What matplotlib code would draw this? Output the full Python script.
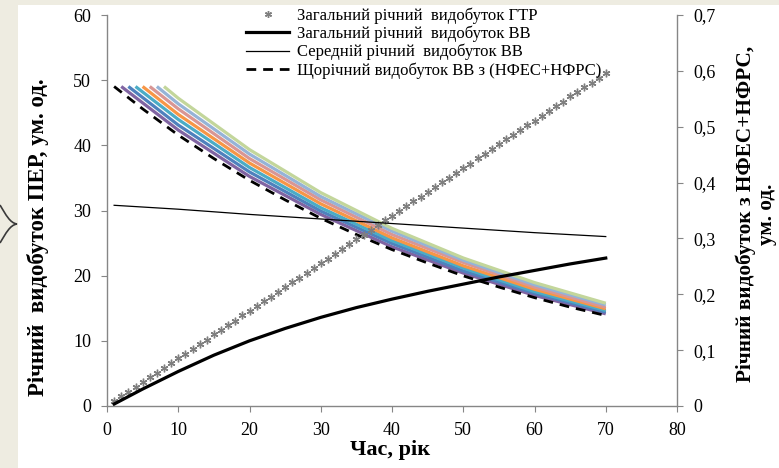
import numpy as np
import matplotlib
matplotlib.use('Agg')
import matplotlib.pyplot as plt
from matplotlib.patches import Rectangle, PathPatch
from matplotlib.path import Path
from matplotlib.lines import Line2D

plt.rcParams['font.family'] = ['Liberation Serif', 'DejaVu Serif']

# total annual GTR output, one marker per year (left axis)
years = list(range(1, 71))
gtr_total = [0.7, 1.5, 2.2, 2.9, 3.7, 4.4, 5.1, 5.8, 6.6, 7.3,
             8.0, 8.8, 9.5, 10.2, 11.0, 11.7, 12.4, 13.1, 13.9, 14.6,
             15.3, 16.1, 16.8, 17.5, 18.3, 19.0, 19.7, 20.4, 21.2, 21.9,
             22.6, 23.4, 24.1, 24.8, 25.6, 26.3, 27.0, 27.7, 28.5, 29.2,
             29.9, 30.7, 31.4, 32.1, 32.9, 33.6, 34.3, 35.0, 35.8, 36.5,
             37.2, 38.0, 38.7, 39.4, 40.2, 40.9, 41.6, 42.3, 43.1, 43.8,
             44.5, 45.3, 46.0, 46.7, 47.5, 48.2, 48.9, 49.6, 50.4, 51.1]

# total annual BB output (left axis)
bb_years = [1, 5, 10, 15, 20, 25, 30, 35, 40, 45, 50, 55, 60, 65, 70]
bb_total = [0.3, 2.6, 5.3, 7.8, 10.0, 11.9, 13.6, 15.1, 16.4, 17.6, 18.7, 19.8, 20.8, 21.8, 22.7]

# average annual BB output (left axis)
avg_years = [1, 10, 20, 30, 40, 50, 60, 70]
bb_avg = [30.8, 30.2, 29.4, 28.7, 28.0, 27.3, 26.6, 26.0]

# annual BB output with NFES+NFRS (right axis)
dash_years = [1, 5, 10, 15, 20, 25, 30, 35, 40, 45, 50, 55, 60, 65, 70]
bb_nf = [0.572, 0.532, 0.485, 0.443, 0.404, 0.369, 0.336, 0.307, 0.280,
         0.256, 0.233, 0.213, 0.194, 0.177, 0.162]

# the same output for wells started in later years (right axis)
wave_years = [[2, 10, 20, 30, 40, 50, 60, 70],
              [3, 10, 20, 30, 40, 50, 60, 70],
              [4, 10, 20, 30, 40, 50, 60, 70],
              [5, 10, 20, 30, 40, 50, 60, 70],
              [6, 10, 20, 30, 40, 50, 60, 70],
              [7, 10, 20, 30, 40, 50, 60, 70],
              [8, 10, 20, 30, 40, 50, 60, 70]]
wave_vals = [[0.572, 0.494, 0.411, 0.343, 0.285, 0.238, 0.198, 0.165],
             [0.572, 0.503, 0.419, 0.349, 0.291, 0.242, 0.202, 0.168],
             [0.572, 0.513, 0.427, 0.355, 0.296, 0.247, 0.205, 0.171],
             [0.572, 0.522, 0.435, 0.362, 0.301, 0.251, 0.209, 0.174],
             [0.572, 0.532, 0.443, 0.369, 0.307, 0.257, 0.213, 0.177],
             [0.572, 0.541, 0.451, 0.375, 0.313, 0.261, 0.217, 0.181],
             [0.572, 0.551, 0.459, 0.382, 0.318, 0.265, 0.221, 0.184]]
wave_colors = ['#8064A2', '#4F81BD', '#4BACC6', '#F79646', '#D99694', '#95B3D7', '#C3D69B']

labels = ['Загальний річний  видобуток ГТР',
          'Загальний річний  видобуток ВВ',
          'Середній річний  видобуток ВВ',
          'Щорічний видобуток ВВ з (НФЕС+НФРС)']
x_ticks = [0, 10, 20, 30, 40, 50, 60, 70, 80]
left_ticks = [0, 10, 20, 30, 40, 50, 60]
right_ticks = [0, 0.1, 0.2, 0.3, 0.4, 0.5, 0.6, 0.7]
right_tick_labels = ['0', '0,1', '0,2', '0,3', '0,4', '0,5', '0,6', '0,7']

W, H = 779, 468
gray = '#868686'
fig = plt.figure(figsize=(W / 100, H / 100), dpi=100, facecolor='#EEECE1')
fig.patches.append(Rectangle((18 / W, 0), 1 - 18 / W, 1 - 5 / H, transform=fig.transFigure,
                             facecolor='white', edgecolor='none', zorder=-10))

# little brace on the slide edge
brace = Path([(0, 205), (6, 215), (10, 223), (17, 224), (10, 225), (6, 233), (0, 243)],
             [Path.MOVETO, Path.CURVE4, Path.CURVE4, Path.CURVE4, Path.CURVE4, Path.CURVE4, Path.CURVE4])
brace = Path([(x / W, 1 - y / H) for x, y in brace.vertices], brace.codes)
fig.patches.append(PathPatch(brace, transform=fig.transFigure, facecolor='none',
                             edgecolor='#3a3a3a', lw=1.2, zorder=-5))

rect = [107 / W, 1 - 406 / H, (677 - 107) / W, (406 - 15) / H]
ax2 = fig.add_axes(rect)
ax = fig.add_axes(rect, sharex=ax2)
ax2.set_zorder(1)
ax.set_zorder(2)
ax.patch.set_visible(False)
ax2.patch.set_visible(False)

for yrs, vals, c in zip(wave_years, wave_vals, wave_colors):
    ax2.plot(yrs, vals, color=c, lw=2.3, solid_capstyle='butt')
ax2.plot(dash_years, bb_nf, color='black', lw=2.0, dashes=(3.5, 2.5))

ax.plot(years, gtr_total, ls='none', marker=(6, 2, 0), ms=5.5, mec='#7f7f7f', mew=1.0)
ax.plot(bb_years, bb_total, color='black', lw=2.3)
ax.plot(avg_years, bb_avg, color='black', lw=0.9)

ax.set_xlim(0, 80)
ax.set_ylim(0, 60)
ax2.set_ylim(0, 0.7)
ax.set_xticks(x_ticks)
ax.set_yticks(left_ticks)
ax2.set_yticks(right_ticks)
ax2.set_yticklabels(right_tick_labels)
ax2.yaxis.tick_right()

for s in ['top', 'right']:
    ax.spines[s].set_visible(False)
for s in ['top', 'left', 'bottom']:
    ax2.spines[s].set_visible(False)
for sp in [ax.spines['left'], ax.spines['bottom'], ax2.spines['right']]:
    sp.set_color(gray)
    sp.set_linewidth(1.0)
ax.tick_params(direction='out', length=4, color=gray, labelsize=13, pad=7.5)
ax2.tick_params(axis='y', direction='out', length=4, color=gray, labelsize=13, pad=7.5)
ax2.tick_params(axis='x', bottom=False, labelbottom=False)

fig.text(390 / W, 1 - 450 / H, 'Час, рік', fontsize=16, fontweight='bold',
         ha='center', va='center')
fig.text(38 / W, 1 - 237 / H, 'Річний  видобуток ПЕР, ум. од.', fontsize=16.5,
         fontweight='bold', rotation=90, ha='center', va='center')
fig.text(756 / W, 1 - 214 / H, 'Річний видобуток з НФЕС+НФРС,\nум. од.', fontsize=15.3,
         fontweight='bold', rotation=90, ha='center', va='center', linespacing=1.1,
         multialignment='center')

handles = [Line2D([], [], ls='none', marker=(6, 2, 0), ms=5, mec='#7f7f7f', mew=1.0),
           Line2D([], [], color='black', lw=2.3),
           Line2D([], [], color='black', lw=0.9),
           Line2D([], [], color='black', lw=2.0, dashes=(3.5, 2.5))]
fig.legend(handles, labels, loc='upper left', bbox_to_anchor=(246 / W, 1 - 7 / H),
           frameon=False, fontsize=12, handlelength=2.6, handletextpad=0.45,
           labelspacing=0.12, borderpad=0.0, borderaxespad=0.0)

fig.savefig('out.png', dpi=100, facecolor=fig.get_facecolor())
